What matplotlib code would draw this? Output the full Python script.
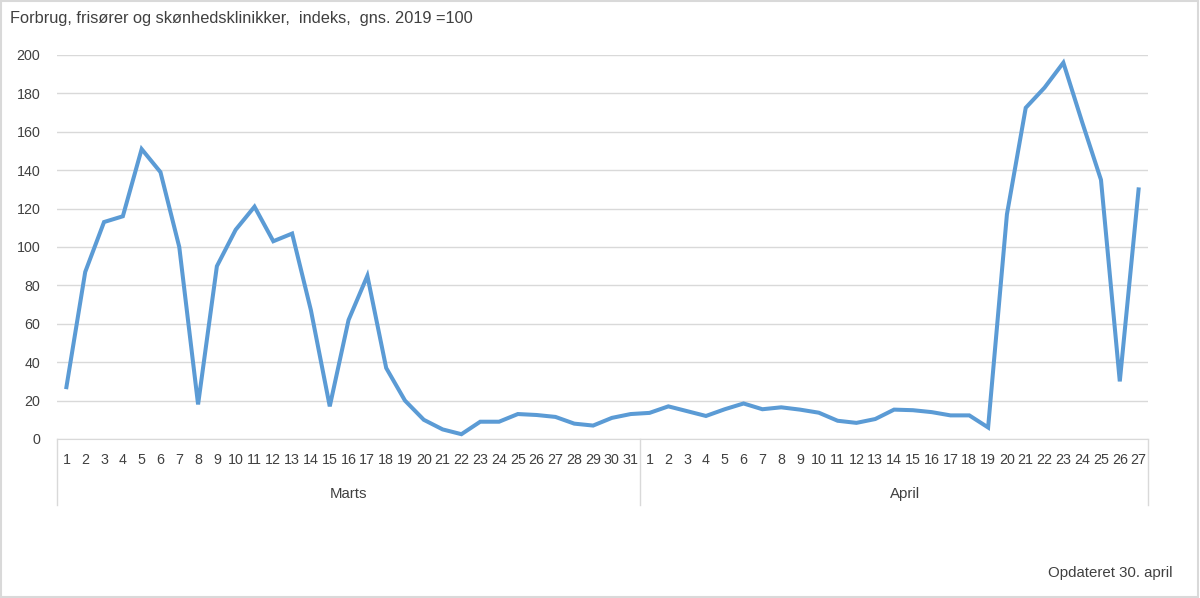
import matplotlib.pyplot as plt
from matplotlib.patches import Rectangle

plt.rcParams['font.family'] = ['Liberation Sans', 'DejaVu Sans']

# dage i marts og april
marts_dage = list(range(1, 32))
april_dage = list(range(1, 28))

# indeks, gns. 2019 = 100
marts = [27, 87, 113, 116, 151, 139, 100, 18, 90, 109, 121, 103, 107, 67, 17, 62, 85,
         37, 20, 10, 5, 2.5, 9, 9, 13, 12.5, 11.5, 8, 7, 11, 13]
april = [13.6, 17, 14.5, 12, 15.5, 18.5, 15.5, 16.5, 15.3, 13.7, 9.5, 8.4, 10.4, 15.3,
         15, 14, 12.3, 12.3, 6, 117, 172.5, 183, 196, 165, 135, 30, 130]

maaneder = ['Marts', 'April']
titel = 'Forbrug, frisører og skønhedsklinikker,  indeks,  gns. 2019 =100'
note = 'Opdateret 30. april'

farve = '#5B9BD5'
tekst = '#404040'
gitter = '#D9D9D9'

vaerdier = marts + april
etiketter = [str(d) for d in marts_dage] + [str(d) for d in april_dage]
x = list(range(len(vaerdier)))

fig = plt.figure(figsize=(12, 5.98), dpi=100)
ax = fig.add_axes([57 / 1200, 1 - 439 / 598, (1148 - 57) / 1200, (439 - 55) / 598])

ax.plot(x, vaerdier, color=farve, lw=2.9, solid_joinstyle='miter', zorder=3)

ax.set_ylim(0, 200)
ax.set_yticks(range(0, 201, 20))
ax.set_xlim(-0.5, len(vaerdier) - 0.5)
ax.set_xticks(x)
ax.set_xticklabels(etiketter)
ax.grid(axis='y', color=gitter, lw=1)
ax.set_axisbelow(True)
for s in ['top', 'right', 'left']:
    ax.spines[s].set_visible(False)
ax.spines['bottom'].set_color(gitter)
ax.tick_params(axis='both', length=0, labelsize=10.3, labelcolor=tekst)
ax.tick_params(axis='y', pad=12)
ax.tick_params(axis='x', pad=10)

# kategori-boks under aksen
trans = ax.get_xaxis_transform()
bund = -66 / 384
graenser = [-0.5, len(marts) - 0.5, len(vaerdier) - 0.5]
for g in graenser:
    ax.plot([g, g], [0, bund], color=gitter, lw=1, transform=trans, clip_on=False)
midter = [(len(marts) - 1) / 2, len(marts) + (len(april) - 1) / 2 + 0.6]
for m, navn in zip(midter, maaneder):
    ax.text(m, -55 / 384, navn, transform=trans, ha='center', va='center',
            fontsize=10.8, color=tekst)

fig.text(10 / 1200, 1 - 18 / 598, titel, ha='left', va='center', fontsize=11.8, color=tekst)
fig.text(1172 / 1200, 1 - 573 / 598, note, ha='right', va='center', fontsize=10.8, color=tekst)

fig.patches.append(Rectangle((0.001, 0.002), 0.997, 0.996, transform=fig.transFigure,
                             fill=False, edgecolor=gitter, lw=1.5))

fig.savefig('out.png', dpi=100)
